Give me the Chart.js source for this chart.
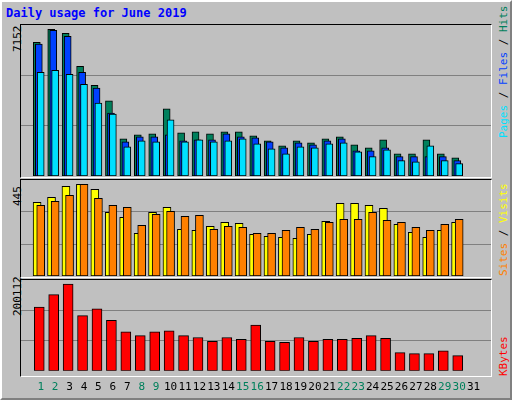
<!DOCTYPE html>
<html><head><meta charset="utf-8">
<script src="https://cdn.jsdelivr.net/npm/chart.js@4"></script>
<style>
body{margin:0;background:#fff}
#wrap{position:absolute;left:0;top:0;width:508px;height:396px;background:#c0c0c0;border-top:2px solid #fff;border-left:2px solid #fff;border-right:2px solid #808080;border-bottom:2px solid #808080}
.t{position:absolute;font-family:"DejaVu Sans Mono",monospace;white-space:nowrap}
.rot{transform-origin:0 0;transform:rotate(-90deg)}
.panel{position:absolute;border-top:1px solid #000;border-left:1px solid #000;border-right:1px solid #fff;border-bottom:1px solid #fff}
canvas{position:absolute}
</style></head><body>
<div id="wrap"></div>
<div class="t" style="left:6px;top:6px;font-size:12px;font-weight:bold;color:#0000ff">Daily usage for June 2019</div>
<div class="t rot" style="left:11px;top:52px;font-size:11px">7152</div>
<div class="t rot" style="left:11px;top:206px;font-size:11px">445</div>
<div class="t rot" style="left:11px;top:316px;font-size:11px">200112</div>
<div class="t rot" style="left:497px;top:138px;font-size:11px"><span style="color:#00e0ff">Pages</span> / <span style="color:#0040ff">Files</span> / <span style="color:#00805c">Hits</span></div>
<div class="t rot" style="left:497px;top:276px;font-size:11px"><span style="color:#ff8000">Sites</span> / <span style="color:#ffff00">Visits</span></div>
<div class="t rot" style="left:497px;top:376px;font-size:11px;color:#ff0000">KBytes</div>
<div class="panel" style="left:20px;top:24px;width:470px;height:152px"></div>
<div class="panel" style="left:20px;top:179px;width:470px;height:97px"></div>
<div class="panel" style="left:20px;top:279px;width:470px;height:96px"></div>
<canvas id="c1" style="left:21px;top:25px;width:470px;height:151px"></canvas>
<canvas id="c2" style="left:21px;top:180px;width:470px;height:96px"></canvas>
<canvas id="c3" style="left:21px;top:280px;width:470px;height:116px"></canvas>
<script>
const days=[1,2,3,4,5,6,7,8,9,10,11,12,13,14,15,16,17,18,19,20,21,22,23,24,25,26,27,28,29,30,31];
const weekend=[1,2,8,9,15,16,22,23,29,30];
const hits=[6520,7152,6957,5352,4427,3665,1816,2011,2060,3276,2108,2157,2060,2157,2157,1962,1719,1476,1719,1622,1816,1914,1524,1379,1768,1087,1087,1768,1087,892];
const files=[6438,7103,6812,5060,4282,3065,1670,1914,1914,2011,1719,1768,1768,2060,1914,1865,1670,1379,1622,1524,1719,1816,1233,1233,1379,941,941,941,941,746];
const pages=[5060,5157,4963,4476,3552,3017,1427,1719,1670,2741,1670,1768,1670,1719,1816,1573,1330,1087,1427,1379,1573,1622,1184,941,1281,746,697,1476,746,600];
const visits=[358,382,435,445,421,309,285,207,309,333,227,222,241,260,256,202,193,188,183,202,265,353,353,343,328,251,212,188,222,260];
const sites=[343,362,392,445,377,343,333,246,299,314,290,294,227,241,236,207,207,222,236,227,260,275,275,309,270,260,236,222,251,275];
const kbytes=[147333,175920,200112,127542,142935,116547,90159,81363,90159,92358,81363,76965,68169,76965,72567,105552,68169,65970,76965,68169,72567,72567,74766,81363,74766,41781,39582,39582,46179,35184];

function pts(arr,off){return arr.map((v,i)=>({x:days[i]+off,y:v}));}
function ds(arr,off,color,w,ord){return {data:pts(arr,off),order:ord,backgroundColor:color,borderColor:'#000',borderWidth:1,barThickness:w,borderSkipped:false};}
function make(id,sets,ymax,showX){
  new Chart(document.getElementById(id),{type:'bar',data:{datasets:sets},
  options:{animation:false,responsive:false,maintainAspectRatio:false,devicePixelRatio:1,
   plugins:{legend:{display:false},tooltip:{enabled:false}},
   layout:{padding:0},
   datasets:{bar:{grouped:false}},
   scales:{
    x:{type:'linear',min:0.16,max:31.68,display:showX,grid:{display:false},border:{display:false},
       afterBuildTicks:s=>{s.ticks=days.map(d=>({value:d}));},
       ticks:{autoSkip:false,maxRotation:0,padding:2,font:{family:'DejaVu Sans Mono',size:11},
        color:c=>weekend.includes(c.tick.value)?'#00805c':'#000',callback:v=>String(v)}},
    y:{min:0,max:ymax,afterBuildTicks:s=>{s.ticks=[{value:ymax/3},{value:2*ymax/3}];},
       ticks:{display:false},grid:{color:'#808080',drawTicks:false},border:{display:false},afterFit:s=>{s.width=0;}}
   }}});
}
const c1=document.getElementById('c1');c1.width=470;c1.height=151;
const c2=document.getElementById('c2');c2.width=470;c2.height=96;
const c3=document.getElementById('c3');c3.width=470;c3.height=116;
make('c1',[ds(hits,-0.27,'#00805c',7,3),ds(files,-0.13,'#0040ff',7,2),ds(pages,0,'#00e0ff',7,1)],7363,false);
make('c2',[ds(visits,-0.25,'#ffff00',8,2),ds(sites,0,'#ff8000',8,1)],466,false);
make('c3',[ds(kbytes,-0.1,'#ff0000',10,1)],209650,true);
</script></body></html>
